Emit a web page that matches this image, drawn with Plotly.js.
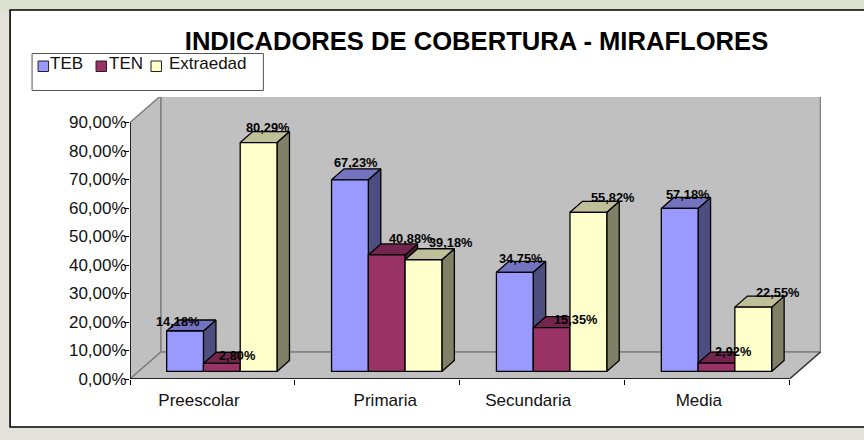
<!DOCTYPE html>
<html>
<head>
<meta charset="utf-8">
<script src="https://cdn.plot.ly/plotly-3.0.1.min.js"></script>
<style>html,body{margin:0;padding:0;background:#e2e2da}</style>
</head>
<body>
<div id="chart" style="width:864px;height:440px"></div>
<script>
// ---- data ----
var categories = ["Preescolar", "Primaria", "Secundaria", "Media"];
var seriesNames = ["TEB", "TEN", "Extraedad"];
var teb = [14.18, 67.23, 34.75, 57.18];
var ten = [2.80, 40.88, 15.35, 2.92];
var extraedad = [80.29, 39.18, 55.82, 22.55];
var yTicks = [0, 10, 20, 30, 40, 50, 60, 70, 80, 90];
var yTickLabels = ["0,00%", "10,00%", "20,00%", "30,00%", "40,00%", "50,00%", "60,00%", "70,00%", "80,00%", "90,00%"];

// ---- styles ----
var front = ["#9999FF", "#993366", "#FFFFCC"];
var side = ["#4D4D80", "#4D1A33", "#808066"];
var top_ = ["#7373BF", "#73264D", "#BFBF99"];
var FONT = "Liberation Sans, Arial, sans-serif";

// ---- layout geometry (pixels) ----
var W = 864, H = 440, L = 129.5, R = 43, T = 97, B = 61;
var pxPerCat = 165, pxPerTen = 28.5;
var xMax = (W - L - R) / pxPerCat, yMax = (H - T - B) / pxPerTen * 10;
var dx = function (px) { return px / pxPerCat; };
var dy = function (px) { return px / pxPerTen * 10; };
var paperX = function (px) { return (px - L) / (W - L - R); };
var paperY = function (px) { return 1 - (px - T) / (H - T - B); };

var barW = dx(36.8);          // width of one bar
var barDX = dx(9.4), barDY = dy(7.6);    // bar plane set back from the front of the floor
var depthX = dx(12.5), depthY = dy(11);  // bar depth
var wallX = dx(31), wallY = dy(27);      // back wall set back
var catCount = categories.length;

var series = [teb, ten, extraedad];
var xOf = function (c, s) { return c + 0.5 + barDX + (s - 1) * barW; };
var axisSuffix = function (n) { return n === 0 ? "" : String(n + 1); };

var traces = [];
function poly(xa, ya, fill, line, width, ax) {
  traces.push({
    type: "scatter", mode: "lines", x: xa, y: ya, fill: fill ? "toself" : "none",
    fillcolor: fill || undefined, line: { color: line, width: width },
    hoverinfo: "skip", showlegend: false,
    xaxis: "x" + axisSuffix(ax), yaxis: "y" + axisSuffix(ax)
  });
}

// walls + floor
var wallTop = 90;
poly([0, wallX, wallX, 0, 0], [0, wallY, wallTop + wallY, wallTop, 0], "#C0C0C0", "#808080", 1.5, 0);
poly([wallX, catCount + wallX, catCount + wallX, wallX, wallX],
     [wallY, wallY, wallTop + wallY, wallTop + wallY, wallY], "#C0C0C0", "#808080", 1.5, 0);
poly([0, catCount, catCount + wallX, wallX, 0], [0, 0, wallY, wallY, 0], "#C0C0C0", "#808080", 1.5, 0);
// front axis lines
poly([0, 0, catCount], [wallTop, 0, 0], null, "#000000", 1.5, 0);
poly([catCount, catCount + wallX], [0, wallY], null, "#333333", 1.2, 0);

// one layer per series so faces stack front to back
series.forEach(function (vals, s) {
  var sx = [], sy = [], tx = [], ty = [];
  vals.forEach(function (v, c) {
    var x0 = xOf(c, s) - barW / 2, x1 = x0 + barW, b = barDY, t = barDY + v;
    sx.push(x1, x1 + depthX, x1 + depthX, x1, x1, null);
    sy.push(b, b + depthY, t + depthY, t, b, null);
    tx.push(x0, x0 + depthX, x1 + depthX, x1, x0, null);
    ty.push(t, t + depthY, t + depthY, t, t, null);
  });
  poly(sx, sy, side[s], "#000000", 1.3, s);
  poly(tx, ty, top_[s], "#000000", 1.3, s);
  traces.push({
    type: "bar", name: seriesNames[s],
    x: categories.map(function (_, c) { return xOf(c, s); }),
    y: vals, base: categories.map(function () { return barDY; }), width: barW,
    marker: { color: front[s], line: { color: "#000000", width: 1.3 } },
    showlegend: false, hoverinfo: "name+y",
    xaxis: "x" + axisSuffix(s + 1), yaxis: "y" + axisSuffix(s + 1)
  });
});

// ---- data labels: hand-placed in the original, so each has its own nudge (px) ----
var labelNudgeX = [[-6.6, 6.2, 6.6, 8.2], [15.3, 24.6, 24.9, 17.3], [9.8, 27.8, 24.6, 24.8]];
var labelNudgeY = [[9.3, 17, 14, 13.6], [8.3, 16.1, 8.2, 11.3], [15.5, 16.9, 14.5, 14.7]];
var annotations = [];
series.forEach(function (vals, s) {
  vals.forEach(function (v, c) {
    annotations.push({
      xref: "x", yref: "y", x: xOf(c, s), y: barDY + v,
      text: v.toFixed(2).replace(".", ",") + "%", showarrow: false,
      xanchor: "center", yanchor: "middle",
      xshift: labelNudgeX[s][c], yshift: labelNudgeY[s][c],
      font: { family: FONT, size: 12.8, color: "#000000", weight: 700 }
    });
  });
});

// ---- outer frame, background band, legend box ----
var shapes = [
  { type: "rect", xref: "paper", yref: "paper", layer: "below",
    x0: paperX(-5), x1: paperX(880), y0: paperY(12), y1: paperY(-5),
    fillcolor: "#DDE1CF", line: { width: 0 } },
  { type: "rect", xref: "paper", yref: "paper", layer: "below",
    x0: paperX(9.5), x1: paperX(880), y0: paperY(427), y1: paperY(10),
    fillcolor: "#FFFFFF", line: { color: "#000000", width: 1.6 } },
  { type: "rect", xref: "paper", yref: "paper",
    x0: paperX(31.5), x1: paperX(263), y0: paperY(90.5), y1: paperY(53.5),
    fillcolor: "#FFFFFF", line: { color: "#555555", width: 1 } }
];
var legendSwatchX = [37.5, 95.5, 150.5];
var legendTextX = [49, 108, 169];
seriesNames.forEach(function (name, s) {
  shapes.push({ type: "rect", xref: "paper", yref: "paper",
    x0: paperX(legendSwatchX[s]), x1: paperX(legendSwatchX[s] + 10.5),
    y0: paperY(71.5), y1: paperY(61),
    fillcolor: front[s], line: { color: "#222222", width: 1 } });
  annotations.push({ xref: "paper", yref: "paper", x: paperX(legendTextX[s]), y: paperY(64),
    text: name, showarrow: false, xanchor: "left", yanchor: "middle", xshift: -1, borderpad: 0,
    font: { family: FONT, size: 17, color: "#111111" } });
});

var hiddenAxis = function (kind) {
  return { range: kind === "x" ? [0, xMax] : [0, yMax], visible: false, fixedrange: true,
           overlaying: kind, domain: [0, 1] };
};

var layout = {
  width: W, height: H, autosize: false,
  margin: { l: L, r: R, t: T, b: B, pad: 0 },
  paper_bgcolor: "#e2e2da", plot_bgcolor: "rgba(0,0,0,0)",
  barmode: "overlay", showlegend: false, hovermode: "closest",
  title: { text: "INDICADORES DE COBERTURA - MIRAFLORES", x: 476.5 / W, xanchor: "center", xref: "container",
           y: 1 - 41.5 / H, yanchor: "middle", yref: "container",
           font: { family: FONT, size: 25.6, color: "#000000", weight: 700 } },
  xaxis: { range: [0, xMax], fixedrange: true, showgrid: false, zeroline: false, showline: false,
           tickmode: "array", tickvals: [0.418, 1.548, 2.415, 3.45], ticktext: categories,
           ticks: "", ticklen: 0, ticklabelstandoff: 9, tickfont: { family: FONT, size: 17, color: "#111111" } },
  yaxis: { range: [0, yMax], fixedrange: true, showgrid: false, zeroline: false, showline: false,
           tickmode: "array", tickvals: yTicks, ticktext: yTickLabels, ticks: "outside", ticklen: 5,
           ticklabelstandoff: -6,
           tickcolor: "#000000", tickwidth: 1.2, tickfont: { family: FONT, size: 17, color: "#111111" } },
  xaxis2: { range: [0, xMax], overlaying: "x", anchor: "y2", fixedrange: true, showgrid: false, zeroline: false,
            tickmode: "array", tickvals: [0, 1, 2, 3, 4], ticks: "outside", ticklen: 5, tickcolor: "#000000",
            tickwidth: 1.2, showticklabels: false, side: "bottom" },
  yaxis2: { range: [0, yMax], overlaying: "y", anchor: "x2", visible: false, fixedrange: true },
  xaxis3: hiddenAxis("x"), yaxis3: hiddenAxis("y"),
  xaxis4: hiddenAxis("x"), yaxis4: hiddenAxis("y"),
  shapes: shapes,
  annotations: annotations
};
layout.xaxis3.anchor = "y3"; layout.yaxis3.anchor = "x3";
layout.xaxis4.anchor = "y4"; layout.yaxis4.anchor = "x4";

Plotly.newPlot("chart", traces, layout, { displayModeBar: false });
</script>
</body>
</html>
